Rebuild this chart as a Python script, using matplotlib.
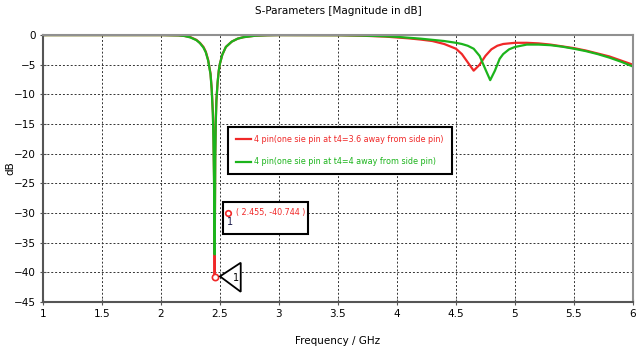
import matplotlib.pyplot as plt
from matplotlib.patches import Polygon, Rectangle

plt.rcParams['font.family'] = ['DejaVu Sans Condensed', 'Liberation Sans Narrow', 'DejaVu Sans']

# red series: t4 = 3.6
f_red = [1.0, 1.5, 2.0, 2.15, 2.2, 2.25, 2.3, 2.33, 2.36, 2.38, 2.4, 2.42, 2.43, 2.44,
         2.445, 2.45, 2.455, 2.46, 2.465, 2.47, 2.48, 2.49, 2.5, 2.52, 2.55, 2.6, 2.65,
         2.7, 2.8, 2.9, 3.0, 3.5, 3.7, 3.9, 4.0, 4.1, 4.2, 4.3, 4.4, 4.5, 4.55, 4.6,
         4.65, 4.7, 4.75, 4.8, 4.85, 4.9, 5.0, 5.1, 5.2, 5.3, 5.4, 5.5, 5.6, 5.7, 5.8,
         5.9, 6.0]
s_red = [0, 0, 0, -0.05, -0.15, -0.35, -0.8, -1.3, -2.0, -2.8, -4.2, -6.5, -9, -13,
         -17, -24, -40.744, -20, -14, -11, -8, -6, -4.8, -3.3, -2.0, -1.1, -0.6,
         -0.35, -0.1, -0.03, 0, -0.02, -0.1, -0.25, -0.4, -0.55, -0.75, -1.0, -1.5,
         -2.3, -3.2, -4.6, -6.0, -5.0, -3.5, -2.4, -1.8, -1.5, -1.3, -1.3, -1.4, -1.6,
         -1.9, -2.2, -2.6, -3.1, -3.6, -4.3, -5.0]

# green series: t4 = 4
f_green = [1.0, 1.5, 2.0, 2.15, 2.2, 2.25, 2.3, 2.33, 2.36, 2.38, 2.4, 2.42, 2.43, 2.44,
           2.445, 2.45, 2.455, 2.46, 2.465, 2.47, 2.48, 2.49, 2.5, 2.52, 2.55, 2.6, 2.65,
           2.7, 2.8, 2.9, 3.0, 3.5, 3.7, 3.9, 4.0, 4.1, 4.2, 4.3, 4.4, 4.5, 4.55, 4.6,
           4.65, 4.7, 4.75, 4.79, 4.83, 4.87, 4.9, 4.95, 5.0, 5.1, 5.2, 5.3, 5.4, 5.5,
           5.6, 5.7, 5.8, 5.9, 6.0]
s_green = [0, 0, 0, -0.05, -0.15, -0.4, -0.85, -1.35, -2.1, -2.9, -4.3, -6.6, -9.2, -13.5,
           -18, -25, -37, -21, -14.5, -11, -8, -6, -4.8, -3.3, -2.0, -1.1, -0.6,
           -0.35, -0.1, -0.03, 0, -0.02, -0.08, -0.2, -0.3, -0.45, -0.6, -0.8, -1.0,
           -1.3, -1.5, -1.8, -2.3, -3.5, -5.8, -7.6, -6.0, -4.0, -3.2, -2.4, -2.0, -1.6,
           -1.6, -1.7, -1.95, -2.3, -2.7, -3.2, -3.8, -4.5, -5.3]

labels = ['4 pin(one sie pin at t4=3.6 away from side pin)',
          '4 pin(one sie pin at t4=4 away from side pin)']
marker_f, marker_s = 2.455, -40.744

red = '#f02828'
green = '#1cb41c'

fig = plt.figure(figsize=(6.41, 3.51), dpi=100)
ax = fig.add_axes([0.067, 0.140, 0.9205, 0.760])

ax.plot(f_red, s_red, color=red, lw=1.6, label=labels[0])
ax.plot(f_green, s_green, color=green, lw=1.6, label=labels[1])
ax.plot([marker_f], [marker_s], 'o', mfc='white', mec=red, ms=4.5, mew=1.2, zorder=5)

ax.set_xlim(1, 6)
ax.set_ylim(-45, 0)
ax.set_xticks([1, 1.5, 2, 2.5, 3, 3.5, 4, 4.5, 5, 5.5, 6])
ax.set_xticklabels(['1', '1.5', '2', '2.5', '3', '3.5', '4', '4.5', '5', '5.5', '6'])
ax.set_yticks(range(-45, 1, 5))
ax.grid(True, color='#333333', linestyle=(0, (2, 2)), linewidth=0.7)
ax.tick_params(labelsize=7.5, direction='inout', length=4, color='#555555', pad=3)

for side in ['left', 'bottom']:
    ax.spines[side].set_color('#555555')
    ax.spines[side].set_linewidth(1.5)
for side in ['top', 'right']:
    ax.spines[side].set_color('#909090')
    ax.spines[side].set_linewidth(1.5)

ax.set_title('S-Parameters [Magnitude in dB]', fontsize=7.5, pad=15)
ax.set_xlabel('Frequency / GHz', fontsize=7.5)
ax.xaxis.set_label_coords(0.5, -0.128)
ax.set_ylabel('dB', fontsize=7.5)
ax.yaxis.set_label_coords(-0.047, 0.5)

leg = ax.legend(loc='upper left', bbox_to_anchor=(0.313, 0.657), borderaxespad=0,
                fontsize=5.8, labelcolor='linecolor', fancybox=False, framealpha=1,
                handlelength=1.9, handletextpad=0.4, borderpad=1.0, labelspacing=1.7)
leg.get_frame().set_edgecolor('black')
leg.get_frame().set_linewidth(1.5)

# marker label box
ax.add_patch(Rectangle((2.525, -33.5), 0.72, 5.4, fill=True, facecolor='white',
                       edgecolor='black', lw=1.5, zorder=6))
ax.plot([2.568], [-30.0], 'o', mfc='white', mec=red, ms=4, mew=1.2, zorder=7)
ax.text(2.585, -31.5, '1', fontsize=7, color='#1a1a4a', ha='center', va='center', zorder=7)
ax.text(2.64, -30.0, '( %.3f, %.3f )' % (marker_f, marker_s), fontsize=5.8, color=red,
        ha='left', va='center', zorder=7)

# triangle marker flag
ax.add_patch(Polygon([(2.5, -40.7), (2.676, -38.4), (2.676, -43.3)], closed=True,
                     facecolor='white', edgecolor='black', lw=1.3, zorder=6))
ax.text(2.635, -40.9, '1', fontsize=7, color='black', ha='center', va='center', zorder=7)

fig.savefig('out.png', dpi=100)
